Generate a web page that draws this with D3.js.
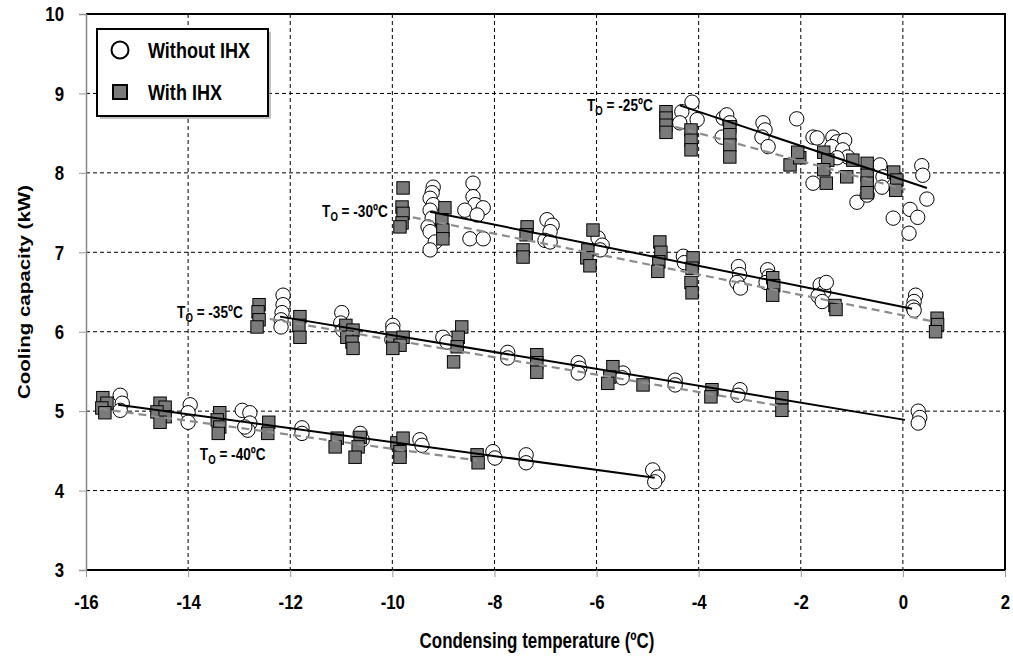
<!DOCTYPE html>
<html>
<head>
<meta charset="utf-8">
<script src="https://cdn.jsdelivr.net/npm/d3@7"></script>
<style>
  html, body { margin: 0; padding: 0; background: #fff; }
  svg { display: block; }
  text { font-family: "Liberation Sans", Arial, sans-serif; font-weight: bold; fill: #000; }
</style>
</head>
<body>
<svg id="chart" width="1013" height="657"></svg>
<script>
// Condensing temperature (ºC) vs cooling capacity (kW), by evaporating temperature T_O
const evapLevels = ["-25", "-30", "-35", "-40"];

// Without IHX (open circles)
const withoutIHX_m25 = [
  [-4.13,8.89],[-4.33,8.77],[-4.37,8.63],[-4.03,8.67],
  [-3.52,8.69],[-3.45,8.73],[-3.39,8.63],[-3.54,8.45],
  [-2.74,8.63],[-2.70,8.54],[-2.76,8.45],[-2.64,8.33],
  [-2.08,8.68],
  [-1.76,8.45],[-1.68,8.44],[-1.37,8.45],[-1.29,8.39],[-1.14,8.41],[-1.39,8.33],
  [-1.18,8.29],[-1.08,8.20],[-1.29,8.19],[-1.76,7.87],[-0.90,7.63],
  [-0.45,8.10],[-0.39,7.95],[-0.41,7.82],[-0.70,7.72],
  [0.37,8.09],[0.39,7.97],[0.47,7.67],[0.14,7.54],[0.29,7.44],[-0.19,7.43],[0.12,7.24]
];
const withoutIHX_m30 = [
  [-9.20,7.82],[-9.22,7.75],[-9.26,7.68],[-9.20,7.60],[-9.26,7.53],[-9.22,7.43],
  [-9.30,7.32],[-9.26,7.26],[-9.16,7.13],[-9.26,7.03],
  [-8.42,7.87],[-8.42,7.70],[-8.38,7.60],[-8.22,7.56],[-8.58,7.53],[-8.34,7.47],[-8.48,7.17],[-8.22,7.17],
  [-6.97,7.41],[-6.87,7.34],[-6.91,7.26],[-7.01,7.15],[-6.91,7.13],
  [-5.97,7.18],[-5.89,7.09],[-5.93,7.03],
  [-4.30,6.95],[-4.28,6.87],
  [-3.22,6.82],[-3.20,6.72],[-3.25,6.62],[-3.18,6.55],
  [-2.65,6.78],[-2.62,6.70],[-2.68,6.62],
  [-1.62,6.59],[-1.55,6.50],[-1.66,6.45],[-1.58,6.38],[-1.50,6.62],
  [0.25,6.46],[0.22,6.38],[0.20,6.31],[0.22,6.27]
];
const withoutIHX_m35 = [
  [-12.14,6.46],[-12.14,6.34],[-12.16,6.24],[-12.18,6.15],[-12.18,6.06],
  [-10.99,6.24],[-11.01,6.11],[-10.97,6.02],
  [-9.99,6.08],[-9.99,6.02],[-10.01,5.90],
  [-9.01,5.93],[-8.93,5.87],
  [-7.74,5.74],[-7.74,5.67],
  [-6.36,5.61],[-6.33,5.54],[-6.36,5.48],
  [-5.48,5.48],[-5.50,5.42],
  [-4.46,5.39],[-4.46,5.33],
  [-3.19,5.27],[-3.23,5.20],
  [0.30,5.00],[0.33,4.92],[0.30,4.85]
];
const withoutIHX_m40 = [
  [-15.33,5.20],[-15.29,5.10],[-15.33,5.01],
  [-13.96,5.08],[-14.00,4.98],[-14.00,4.86],
  [-12.94,5.01],[-12.79,4.98],[-12.79,4.85],[-12.83,4.76],[-12.89,4.80],
  [-11.77,4.79],[-11.77,4.72],
  [-10.63,4.72],[-10.59,4.64],
  [-9.46,4.64],[-9.42,4.57],
  [-8.03,4.49],[-7.99,4.41],
  [-7.38,4.45],[-7.38,4.35],
  [-4.90,4.26],[-4.80,4.17],[-4.86,4.11]
];

// With IHX (grey squares)
const withIHX_m25 = [
  [-4.64,8.77],[-4.64,8.69],[-4.64,8.60],[-4.64,8.51],
  [-4.15,8.54],[-4.15,8.41],[-4.15,8.29],
  [-3.39,8.58],[-3.39,8.48],[-3.39,8.35],[-3.39,8.20],
  [-2.21,8.10],[-2.02,8.19],[-2.06,8.26],
  [-1.55,8.26],[-1.47,8.16],[-1.55,8.04],[-1.50,7.87],
  [-1.10,7.95],[-0.98,8.16],
  [-0.70,8.12],[-0.70,7.97],[-0.70,7.87],[-0.70,7.75],
  [-0.18,8.01],[-0.12,7.91],[-0.14,7.78]
];
const withIHX_m30 = [
  [-9.79,7.81],[-9.81,7.57],[-9.79,7.49],[-9.81,7.37],[-9.85,7.32],
  [-8.97,7.56],[-9.03,7.41],[-9.01,7.28],[-9.01,7.17],
  [-7.36,7.32],[-7.38,7.22],[-7.44,7.03],[-7.44,6.94],
  [-6.07,7.28],[-6.17,7.03],[-6.19,6.93],[-6.13,6.83],
  [-4.76,7.13],[-4.74,7.00],[-4.78,6.88],[-4.80,6.76],
  [-4.11,6.93],[-4.13,6.80],[-4.15,6.62],[-4.13,6.49],
  [-2.55,6.68],[-2.53,6.58],[-2.55,6.46],
  [-1.33,6.33],[-1.31,6.28],
  [0.67,6.17],[0.68,6.09],[0.64,6.00]
];
const withIHX_m35 = [
  [-12.61,6.34],[-12.63,6.25],[-12.61,6.15],[-12.65,6.06],
  [-11.81,6.19],[-11.83,6.08],[-11.81,5.93],
  [-10.91,6.08],[-10.77,6.02],[-10.89,5.93],[-10.79,5.87],[-10.77,5.79],
  [-9.99,5.92],[-9.79,5.93],[-9.85,5.83],[-9.99,5.79],
  [-8.64,6.06],[-8.71,5.93],[-8.73,5.81],[-8.80,5.62],
  [-7.17,5.71],[-7.17,5.61],[-7.17,5.49],
  [-5.68,5.56],[-5.74,5.43],[-5.78,5.35],
  [-5.09,5.33],
  [-3.74,5.27],[-3.76,5.18],
  [-2.37,5.17],[-2.37,5.01]
];
const withIHX_m40 = [
  [-15.67,5.17],[-15.59,5.10],[-15.69,5.04],[-15.63,4.98],
  [-14.55,5.10],[-14.45,5.05],[-14.61,4.99],[-14.45,4.93],[-14.55,4.86],
  [-13.38,4.98],[-13.43,4.89],[-13.38,4.80],[-13.41,4.72],
  [-12.42,4.86],[-12.44,4.72],
  [-11.08,4.66],[-11.12,4.55],
  [-10.63,4.67],[-10.67,4.55],[-10.73,4.42],
  [-9.91,4.60],[-9.79,4.66],[-9.85,4.49],[-9.85,4.42],
  [-8.34,4.45],[-8.32,4.35]
];

// Linear fits: [t start, capacity start, t end, capacity end]
const fitWithout = [
  [-4.37, 8.85, 0.47, 7.81],
  [-9.26, 7.51, 0.18, 6.29],
  [-12.20, 6.19, 0.04, 4.89],
  [-15.37, 5.08, -4.86, 4.16]
];
const fitWith = [
  [-4.46, 8.58, 0.05, 7.79],
  [-9.60, 7.44, 0.67, 6.12],
  [-12.40, 6.16, -2.35, 5.06],
  [-15.73, 5.03, -8.34, 4.38]
];

// Curve labels anchored in data units: [t, capacity, anchor]
const labelAnchors = [
  [-4.90, 8.85, "end"],
  [-10.09, 7.51, "end"],
  [-12.93, 6.24, "end"],
  [-13.77, 4.45, "start"]
];

const xTicks = [-16, -14, -12, -10, -8, -6, -4, -2, 0, 2];
const yTicks = [3, 4, 5, 6, 7, 8, 9, 10];
const legendItems = ["Without IHX", "With IHX"];

const withoutSeries = [withoutIHX_m25, withoutIHX_m30, withoutIHX_m35, withoutIHX_m40];
const withSeries = [withIHX_m25, withIHX_m30, withIHX_m35, withIHX_m40];

const svg = d3.select("#chart");
const plotLeft = 86, plotRight = 1005, plotTop = 14, plotBottom = 570;

const x = d3.scaleLinear().domain([-16, 2]).range([plotLeft, plotRight]);
const y = d3.scaleLinear().domain([3, 10]).range([plotBottom, plotTop]);

// Gridlines
const grid = svg.append("g");
grid.append("g").selectAll("line").data(yTicks.filter(v => v > 3 && v < 10)).join("line")
  .attr("x1", plotLeft).attr("x2", plotRight)
  .attr("y1", d => y(d)).attr("y2", d => y(d))
  .attr("stroke", "#000").attr("stroke-width", 1).attr("stroke-dasharray", "4,3");
grid.append("g").selectAll("line").data(xTicks.filter(v => v > -16 && v < 2)).join("line")
  .attr("y1", plotTop).attr("y2", plotBottom)
  .attr("x1", d => x(d)).attr("x2", d => x(d))
  .attr("stroke", "#000").attr("stroke-width", 1).attr("stroke-dasharray", "4,3");

// Plot frame (top, right, bottom)
svg.append("path")
  .attr("d", `M${plotLeft},${plotTop}H${plotRight}V${plotBottom}H${plotLeft}`)
  .attr("fill", "none").attr("stroke", "#000").attr("stroke-width", 2);

// Axes, with condensed tick lettering
const tickSqueeze = 0.8;
const yAxis = d3.axisLeft(y).tickValues(yTicks).tickSize(7).tickPadding(15).tickFormat(d => String(d));
const xAxis = d3.axisBottom(x).tickValues(xTicks).tickSize(7).tickPadding(17).tickFormat(d => String(d));

const gy = svg.append("g").attr("transform", `translate(${plotLeft},0)`).call(yAxis);
const gx = svg.append("g").attr("transform", `translate(0,${plotBottom})`).call(xAxis);
gy.select(".domain").attr("stroke", "#888").attr("stroke-width", 1.5);
gx.select(".domain").remove();
[gy, gx].forEach(g => {
  g.selectAll(".tick line").attr("stroke", "#999").attr("stroke-width", 1);
  g.selectAll(".tick text")
    .attr("font-size", 21).attr("font-weight", "bold")
    .attr("font-family", "'Liberation Sans', Arial, sans-serif").attr("fill", "#000")
    .each(function () {
      const t = d3.select(this);
      const tx = +t.attr("x") || 0;
      t.attr("x", tx / tickSqueeze).attr("transform", `scale(${tickSqueeze},1)`);
    });
});

// Markers
const markers = svg.append("g");
withoutSeries.forEach(series => {
  markers.append("g").selectAll("circle").data(series).join("circle")
    .attr("cx", d => x(d[0])).attr("cy", d => y(d[1])).attr("r", 7.2)
    .attr("fill", "#fff").attr("stroke", "#000").attr("stroke-width", 1);
});
withSeries.forEach(series => {
  markers.append("g").selectAll("rect").data(series).join("rect")
    .attr("x", d => x(d[0]) - 6.2).attr("y", d => y(d[1]) - 6.2)
    .attr("width", 12.4).attr("height", 12.4)
    .attr("fill", "#7a7a7a").attr("stroke", "#000").attr("stroke-width", 1);
});

// Fit lines
svg.append("g").selectAll("line").data(fitWith).join("line")
  .attr("x1", d => x(d[0])).attr("y1", d => y(d[1]))
  .attr("x2", d => x(d[2])).attr("y2", d => y(d[3]))
  .attr("stroke", "#8c8c8c").attr("stroke-width", 2.2).attr("stroke-dasharray", "8,5");
svg.append("g").selectAll("line").data(fitWithout).join("line")
  .attr("x1", d => x(d[0])).attr("y1", d => y(d[1]))
  .attr("x2", d => x(d[2])).attr("y2", d => y(d[3]))
  .attr("stroke", "#000").attr("stroke-width", 2);

// Curve labels: T_O = ...ºC
labelAnchors.forEach((a, i) => {
  const t = svg.append("text")
    .attr("transform", `translate(${x(a[0])},${y(a[1]) + 5.5}) scale(0.8,1)`)
    .attr("text-anchor", a[2]).attr("font-size", 17);
  t.append("tspan").text("T");
  t.append("tspan").attr("font-size", 12).attr("dy", 4).text("O");
  t.append("tspan").attr("dy", -4).text(` = ${evapLevels[i]}ºC`);
});

// Axis titles
svg.append("text")
  .attr("transform", "translate(537,648) scale(0.77,1)").attr("text-anchor", "middle")
  .attr("font-size", 22).text("Condensing temperature (ºC)");
svg.append("text")
  .attr("transform", "translate(30,292) scale(0.82,1) rotate(-90)").attr("text-anchor", "middle")
  .attr("font-size", 20.5).text("Cooling capacity (kW)");

// Legend
const lg = svg.append("g");
lg.append("rect").attr("x", 100).attr("y", 32).attr("width", 171).attr("height", 87)
  .attr("fill", "#9a9a9a").attr("opacity", 0.6);
lg.append("rect").attr("x", 97).attr("y", 29).attr("width", 171).attr("height", 87)
  .attr("fill", "#fff").attr("stroke", "#000").attr("stroke-width", 2);
lg.append("circle").attr("cx", 120).attr("cy", 50).attr("r", 8.5)
  .attr("fill", "#fff").attr("stroke", "#000").attr("stroke-width", 2);
lg.append("rect").attr("x", 113).attr("y", 85).attr("width", 14).attr("height", 14)
  .attr("fill", "#7a7a7a").attr("stroke", "#000").attr("stroke-width", 2);
lg.selectAll("text").data(legendItems).join("text")
  .attr("transform", (d, i) => `translate(148,${57.5 + i * 42}) scale(0.82,1)`)
  .attr("font-size", 22).text(d => d);
</script>
</body>
</html>
